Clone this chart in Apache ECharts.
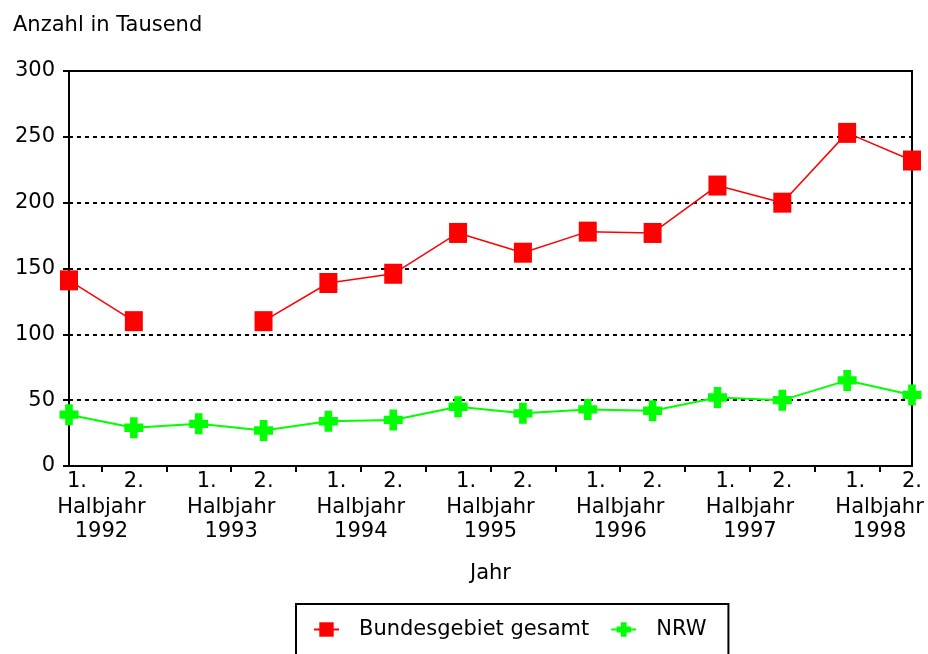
<!DOCTYPE html>
<html>
<head>
<meta charset="utf-8">
<script src="https://cdn.jsdelivr.net/npm/echarts@6/dist/echarts.min.js"></script>
<style>html,body{margin:0;padding:0;background:#fff}#c{width:928px;height:654px}</style>
</head>
<body>
<div id="c"></div>
<script>
var categories = ['1. Halbjahr 1992','2. Halbjahr 1992','1. Halbjahr 1993','2. Halbjahr 1993','1. Halbjahr 1994','2. Halbjahr 1994','1. Halbjahr 1995','2. Halbjahr 1995','1. Halbjahr 1996','2. Halbjahr 1996','1. Halbjahr 1997','2. Halbjahr 1997','1. Halbjahr 1998','2. Halbjahr 1998'];
var halfLabels = ['1.','2.','1.','2.','1.','2.','1.','2.','1.','2.','1.','2.','1.','2.'];
var years = ['1992','1993','1994','1995','1996','1997','1998'];
var bundesgebiet = [141, 110, null, 110, 139, 146, 177, 162, 178, 177, 213, 200, 253, 232];
var nrw = [39, 29, 32, 27, 34, 35, 45, 40, 43, 42, 52, 50, 65, 54];
var yTicks = [0, 50, 100, 150, 200, 250, 300];

var FONT = 'DejaVu Sans';
var FS = 21;
// bands between neighbouring half-years (tick positions), year label on every second band
var bands = [];
for (var i = 0; i < categories.length - 1; i++) {
  bands.push(i % 2 === 0 ? 'Halbjahr\n' + years[i / 2] : '');
}
var crossPath = 'path://M3,0H7V3H10V7H7V10H3V7H0V3H3Z';

var chart = echarts.init(document.getElementById('c'), null, {renderer: 'canvas'});
chart.setOption({
  animation: false,
  backgroundColor: '#fff',
  title: {
    text: 'Anzahl in Tausend', left: 8, top: 10,
    textStyle: {fontFamily: FONT, fontSize: FS, fontWeight: 'normal', color: '#000'}
  },
  grid: {left: 69, right: 16, top: 71, bottom: 188, show: true, borderColor: '#000', borderWidth: 2, containLabel: false},
  legend: {
    left: 296, top: 604,
    padding: [15, 22, 16, 17],
    itemGap: 21, itemWidth: 25, itemHeight: 18,
    borderColor: '#000', borderWidth: 2, backgroundColor: '#fff',
    textStyle: {fontFamily: FONT, fontSize: FS, color: '#000', padding: [0, 0, 0, 15]},
    data: ['Bundesgebiet gesamt', 'NRW']
  },
  xAxis: [{
    type: 'category', position: 'bottom', data: categories, boundaryGap: false,
    name: 'Jahr', nameLocation: 'middle', nameGap: 97,
    nameTextStyle: {fontFamily: FONT, fontSize: FS, color: '#000'},
    axisLine: {show: true, lineStyle: {color: '#000', width: 2}},
    axisTick: {show: false},
    axisLabel: {
      interval: 0, margin: 4, color: '#000', fontFamily: FONT, fontSize: FS, lineHeight: 24,
      formatter: function (v, idx) { return halfLabels[idx] === '1.' ? '{a|1.}' : '{b|2.}'; },
      rich: {
        a: {fontFamily: FONT, fontSize: FS, color: '#000', padding: [0, 0, 0, 16], lineHeight: 24},
        b: {fontFamily: FONT, fontSize: FS, color: '#000', lineHeight: 24}
      }
    },
    splitLine: {show: false}
  }, {
    type: 'category', position: 'bottom', data: bands, boundaryGap: true,
    axisLine: {show: true, lineStyle: {color: '#000', width: 2}},
    axisTick: {show: true, alignWithLabel: true, length: 6, lineStyle: {color: '#000', width: 2}},
    axisLabel: {interval: 0, margin: 30, color: '#000', fontFamily: FONT, fontSize: FS, lineHeight: 24},
    splitLine: {show: false}
  }],
  yAxis: {
    type: 'value', min: 0, max: 300, interval: 50,
    axisLine: {show: true, lineStyle: {color: '#000', width: 2}},
    axisTick: {show: true, length: 6, lineStyle: {color: '#000', width: 2}},
    axisLabel: {
      margin: 14, color: '#000', fontFamily: FONT, fontSize: FS,
      formatter: function (v) { return yTicks.indexOf(v) >= 0 ? String(v) : ''; }
    },
    splitLine: {show: true, lineStyle: {color: '#000', width: 2, type: [4, 4]}}
  },
  series: [{
    name: 'Bundesgebiet gesamt', type: 'line', xAxisIndex: 0, data: bundesgebiet,
    connectNulls: false, clip: false,
    symbol: 'rect', symbolSize: [18, 20],
    lineStyle: {color: '#ff0000', width: 1.5},
    itemStyle: {color: '#ff0000'}
  }, {
    name: 'NRW', type: 'line', xAxisIndex: 0, data: nrw,
    clip: false,
    symbol: crossPath, symbolSize: [19, 21],
    lineStyle: {color: '#00ff00', width: 2},
    itemStyle: {color: '#00ff00'}
  }]
});
</script>
</body>
</html>
